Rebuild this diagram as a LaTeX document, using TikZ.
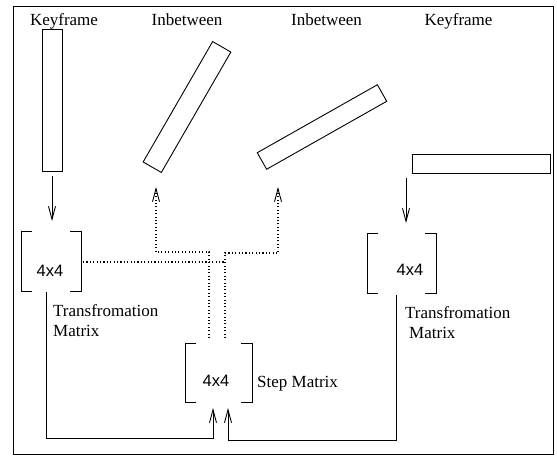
\documentclass[tikz,border=0pt]{standalone}
\usepackage{fontspec}
\setmainfont{Liberation Serif}
\newfontfamily\helv{Liberation Sans}
\usetikzlibrary{arrows.meta,calc}
\begin{document}
\begin{tikzpicture}[x=1pt,y=-1pt,
  ln/.style={line width=0.9pt,black},
  box/.style={draw,line width=0.9pt,inner sep=0pt,outer sep=0pt},
  arr/.style={ln,-{Straight Barb[length=13pt,width=7pt,line width=0.9pt]}},
  dot/.style={line width=1.1pt,dash pattern=on 1.1pt off 2.3pt},
  darr/.style={dot,-{Straight Barb[length=13pt,width=7pt,line width=0.9pt,sep=0pt]}},
  lbl/.style={font=\fontsize{17}{20}\selectfont,inner sep=0pt,anchor=base},
  mtx/.style={font=\helv\fontsize{16.5}{20}\selectfont,inner sep=0pt},
  mbox/.style={inner sep=0pt,outer sep=0pt}]
\useasboundingbox (0,0) rectangle (557,456);
% frame
\draw[ln] (13,6) rectangle (553,454);
% top labels
\node[lbl] (t1) at (64,25) {Keyframe};
\node[lbl] (t2) at (187,25) {Inbetween};
\node[lbl] (t3) at (326.5,25) {Inbetween};
\node[lbl] (t4) at (458.5,25) {Keyframe};
% frames
\node[box,minimum width=20,minimum height=142] (kf1) at (52,100) {};
\node[box,minimum width=139,minimum height=21,rotate=60] (ib1) at (187,107) {};
\node[box,minimum width=138,minimum height=19,rotate=29.5] (ib2) at (322,127) {};
\node[box,minimum width=138,minimum height=19] (kf2) at (481,163.5) {};
% matrices
\node[mbox,minimum width=60,minimum height=60] (m1) at (51,261) {};
\node[mbox,minimum width=67,minimum height=59] (ms) at (218.5,372.5) {};
\node[mbox,minimum width=69,minimum height=60] (m2) at (401.5,263) {};
\foreach \m in {m1,ms,m2}{
  \draw[ln] ($(\m.north west)+(11,0)$) -- (\m.north west) -- (\m.south west) -- ++(11,0);
  \draw[ln] ($(\m.north east)+(-11,0)$) -- (\m.north east) -- (\m.south east) -- ++(-11,0);
}
\node[mtx] (x1) at (50,271) {4x4};
\node[mtx] (xs) at (216,381) {4x4};
\node[mtx] (x2) at (410,270) {4x4};
% labels
\node[lbl,anchor=base west] (tm1a) at (53,316) {Transfromation};
\node[lbl,anchor=base west] (tm1b) at (53,336) {Matrix};
\node[lbl,anchor=base west] (tm2a) at (405,318) {Transfromation};
\node[lbl,anchor=base west] (tm2b) at (409,338) {Matrix};
\node[lbl,anchor=base west] (sm) at (257,387) {Step Matrix};
% keyframe arrows
\coordinate (a1s) at (52,176);
\coordinate (a1e) at (52,221);
\coordinate (a2s) at (406,178);
\coordinate (a2e) at (406,223);
\draw[arr] (a1s) -- (a1e);
\draw[arr] (a2s) -- (a2e);
% solid paths to step matrix
\coordinate (p1) at (46,292);
\coordinate (p2) at (396,295);
\coordinate (q1) at (213,408);
\coordinate (q2) at (228,408);
\draw[arr] (p1) -- (46,438) -- (q1 |- 0,438) -- (q1);
\draw[arr] (p2) -- (396,440) -- (q2 |- 0,440) -- (q2);
% dotted paths
\coordinate (d1) at (156,187);
\coordinate (d2) at (278,187);
\draw[darr] (209,338) -- (209,252) -- (156,252) -- (d1);
\draw[darr] (225,338) -- (225,253) -- (278,253) -- (d2);
\draw[dot] (83,262) -- (225,262);
\end{tikzpicture}
\end{document}
